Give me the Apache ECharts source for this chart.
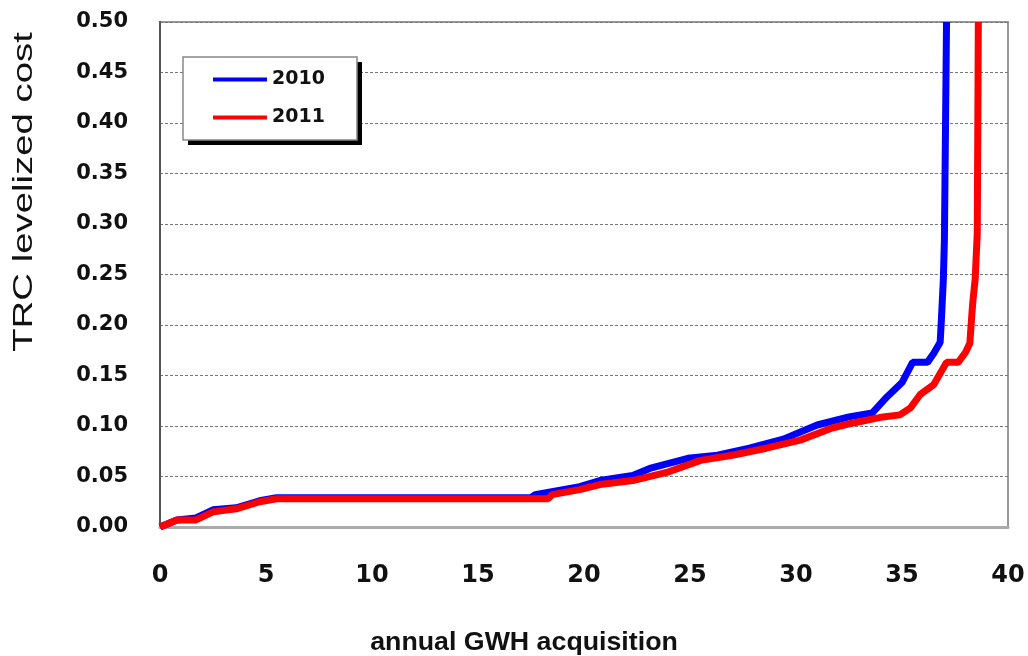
<!DOCTYPE html>
<html>
<head>
<meta charset="utf-8">
<script src="https://cdn.jsdelivr.net/npm/echarts@6/dist/echarts.min.js"></script>
<style>
  html, body { margin: 0; padding: 0; background: #fff; }
  #chart { width: 1028px; height: 656px; }
</style>
</head>
<body>
<div id="chart"></div>
<script>
// 2010 curve (annual GWH, TRC levelized cost)
const x2010 = [0, 0.8, 1.7, 2.5, 3.6, 4.7, 5.5, 17.5, 17.7, 19.8, 20.75, 22.3, 23.1, 24.9, 26.3, 27.8, 29.4, 31.0, 32.5, 33.6, 34.3, 35.0, 35.5, 36.2, 36.5, 36.8, 36.85, 36.95, 37.0, 37.1];
const y2010 = [0, 0.007, 0.009, 0.017, 0.019, 0.026, 0.029, 0.029, 0.032, 0.040, 0.046, 0.051, 0.058, 0.068, 0.071, 0.078, 0.087, 0.101, 0.109, 0.113, 0.129, 0.143, 0.163, 0.163, 0.172, 0.183, 0.202, 0.245, 0.284, 0.5];

// 2011 curve
const x2011 = [0, 0.8, 1.7, 2.5, 3.6, 4.7, 5.5, 18.3, 18.5, 19.8, 20.75, 22.3, 23.9, 25.5, 27.0, 28.6, 30.2, 31.7, 32.7, 34.1, 34.9, 35.4, 35.85, 36.5, 37.1, 37.65, 38.0, 38.2, 38.3, 38.35, 38.45, 38.55, 38.6];
const y2011 = [0, 0.007, 0.007, 0.015, 0.018, 0.025, 0.028, 0.028, 0.032, 0.037, 0.042, 0.046, 0.054, 0.066, 0.071, 0.078, 0.086, 0.098, 0.103, 0.109, 0.111, 0.118, 0.131, 0.141, 0.163, 0.163, 0.173, 0.182, 0.212, 0.225, 0.245, 0.291, 0.5];

const seriesNames = ['2010', '2011'];
const xTitle = 'annual GWH acquisition';
const yTitle = 'TRC levelized cost';

function pairs(xs, ys) {
  let out = [];
  for (let i = 0; i < xs.length; i++) {
    out.push([xs[i], ys[i]]);
  }
  return out;
}

let myChart = echarts.init(document.getElementById('chart'));
let option = {
  backgroundColor: '#fff',
  animation: false,
  grid: {
    left: 160,
    right: 20,
    top: 22,
    bottom: 129,
    show: true,
    borderColor: '#999',
    borderWidth: 2
  },
  legend: {
    data: seriesNames,
    orient: 'vertical',
    left: 183,
    top: 57,
    padding: [13, 32, 13, 30],
    itemWidth: 54,
    itemHeight: 4,
    itemGap: 19,
    icon: 'rect',
    z: 5,
    textStyle: {
      fontFamily: 'DejaVu Sans',
      fontWeight: 'bold',
      fontSize: 19,
      color: '#111'
    }
  },
  xAxis: {
    type: 'value',
    min: 0,
    max: 40,
    interval: 5,
    axisLine: { show: true, lineStyle: { color: '#aaa', width: 3 } },
    axisTick: { show: false },
    splitLine: { show: false },
    axisLabel: {
      margin: 37,
      fontFamily: 'DejaVu Sans',
      fontWeight: 'bold',
      fontSize: 24,
      color: '#111'
    }
  },
  yAxis: {
    type: 'value',
    min: 0,
    max: 0.5,
    interval: 0.05,
    axisLine: { show: true, lineStyle: { color: '#555', width: 2 } },
    axisTick: { show: false },
    splitLine: { show: true, lineStyle: { color: '#777', width: 1, type: [3, 2] } },
    axisLabel: {
      margin: 32,
      fontFamily: 'DejaVu Sans',
      fontWeight: 'bold',
      fontSize: 21,
      color: '#111',
      formatter: function (v) { return v.toFixed(2); }
    }
  },
  graphic: [
    // legend box with its hard black shadow
    {
      type: 'rect',
      z: 3,
      shape: { x: 188, y: 62, width: 174, height: 83 },
      style: { fill: '#000' }
    },
    {
      type: 'rect',
      z: 3,
      shape: { x: 183, y: 57, width: 174, height: 83 },
      style: { fill: '#fff', stroke: '#888', lineWidth: 1.5 }
    },
    {
      type: 'text',
      x: 25,
      y: 192,
      rotation: Math.PI / 2,
      scaleX: 1.42,
      style: {
        text: yTitle,
        font: '27px "Liberation Sans"',
        fill: '#111',
        align: 'center',
        verticalAlign: 'middle'
      }
    },
    {
      type: 'text',
      x: 524,
      y: 643,
      scaleX: 1.07,
      style: {
        text: xTitle,
        font: 'bold 25px "Liberation Sans"',
        fill: '#111',
        align: 'center',
        verticalAlign: 'middle'
      }
    }
  ],
  series: [
    {
      name: seriesNames[0],
      type: 'line',
      showSymbol: false,
      symbol: 'none',
      clip: true,
      lineStyle: { color: '#0000ff', width: 7 },
      itemStyle: { color: '#0000ff' },
      data: pairs(x2010, y2010)
    },
    {
      name: seriesNames[1],
      type: 'line',
      showSymbol: false,
      symbol: 'none',
      clip: true,
      lineStyle: { color: '#ff0000', width: 7 },
      itemStyle: { color: '#ff0000' },
      data: pairs(x2011, y2011)
    }
  ]
};

option && myChart.setOption(option);
</script>
</body>
</html>
